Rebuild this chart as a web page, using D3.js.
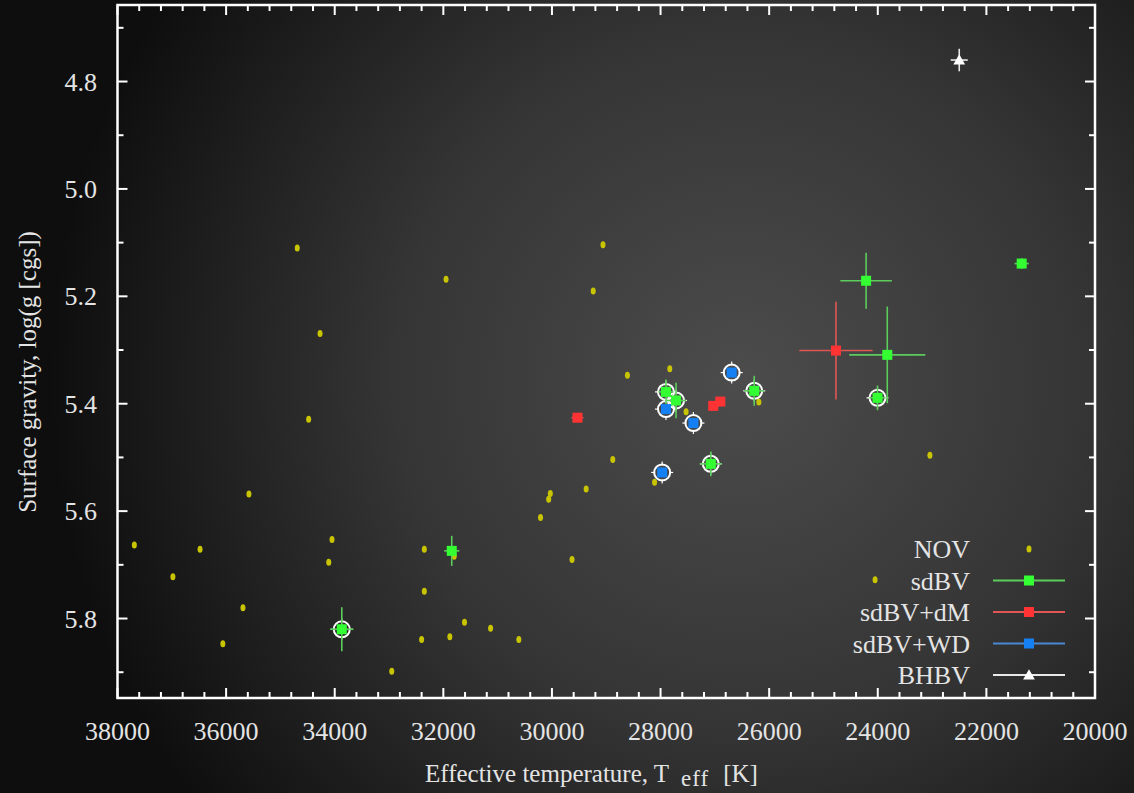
<!DOCTYPE html>
<html>
<head>
<meta charset="utf-8">
<script src="https://cdn.jsdelivr.net/npm/d3@7"></script>
<style>
	body{margin:0;background:#000;}
	svg{display:block;}
	text{font-family:"Liberation Serif","Times New Roman",serif;fill:#e4e4e4;}
</style>
</head>
<body>
<div id="chart"></div>
<script>
// NOV stars: [Teff, log g]
var nov = [
	[34690,5.110],[34270,5.269],[34480,5.429],[35580,5.568],[34050,5.653],
	[37690,5.663],[36480,5.671],[34110,5.695],[36980,5.722],[35690,5.780],
	[36060,5.847],[29060,5.104],[31950,5.168],[29240,5.190],[28880,5.504],
	[30030,5.567],[30060,5.578],[29370,5.559],[30210,5.612],[32350,5.671],
	[31800,5.684],[29630,5.690],[32350,5.749],[31610,5.807],[31130,5.818],
	[32400,5.839],[31880,5.834],[30610,5.839],[32950,5.898],[28610,5.347],
	[27830,5.335],[27530,5.415],[26190,5.397],[28110,5.546],[24050,5.728],
	[23040,5.496]
];

// pulsators: [Teff, log g, err Teff, err log g, circled]
var sdbv = [
	[33870,5.820,215,0.041,true],
	[31845,5.674,140,0.028,false],
	[27900,5.378,140,0.023,true],
	[27715,5.394,185,0.033,true],
	[26275,5.376,185,0.028,true],
	[27075,5.512,200,0.023,true],
	[24215,5.171,475,0.052,false],
	[23825,5.309,700,0.090,false],
	[24005,5.389,150,0.023,true],
	[21350,5.139,130,0.010,false]
];
var sdbvDM = [
	[29530,5.426,110,0.005,false],
	[27030,5.404,50,0.005,false],
	[26900,5.396,50,0.005,false],
	[24770,5.301,676,0.091,false]
];
var sdbvWD = [
	[26690,5.342,0,0,true],
	[27900,5.410,0,0,true],
	[27395,5.436,0,0,true],
	[27970,5.528,0,0,true]
];
var bhbv = [
	[22500,4.760,157,0.021,false]
];

var legendLabels = ["NOV","sdBV","sdBV+dM","sdBV+WD","BHBV"];
var xTicks = d3.range(38000,19999,-2000);
var yTicks = [4.8,5.0,5.2,5.4,5.6,5.8];

var W = 1134, H = 793;
var frame = {left:117.5, right:1095, top:5, bottom:698};

var svg = d3.select("#chart").append("svg").attr("width",W).attr("height",H);

var grad = svg.append("defs").append("radialGradient")
	.attr("id","bg").attr("gradientUnits","userSpaceOnUse")
	.attr("cx",740).attr("cy",380).attr("r",690);
grad.append("stop").attr("offset",0).attr("stop-color","#4c4c4c");
grad.append("stop").attr("offset",0.5).attr("stop-color","#353535");
grad.append("stop").attr("offset",1).attr("stop-color","#0e0e0e");
svg.append("rect").attr("width",W).attr("height",H).attr("fill","url(#bg)");

var x = d3.scaleLinear().domain([38000,20000]).range([frame.left,frame.right]);
var y = d3.scaleLinear().domain([4.6575,5.948]).range([frame.top,frame.bottom]);

// ticks on all four sides, pointing inward
var axisG = svg.append("g").attr("stroke","#fff").attr("stroke-width",2);
d3.range(38000,19999,-400).forEach(function(t){
	var len = (t % 2000 == 0) ? 10 : 6;
	axisG.append("line").attr("x1",x(t)).attr("x2",x(t)).attr("y1",frame.bottom).attr("y2",frame.bottom-len);
	axisG.append("line").attr("x1",x(t)).attr("x2",x(t)).attr("y1",frame.top).attr("y2",frame.top+len);
});
d3.range(47,60).forEach(function(k){
	var v = k/10;
	var len = (k % 2 == 0) ? 10 : 6;
	axisG.append("line").attr("y1",y(v)).attr("y2",y(v)).attr("x1",frame.left).attr("x2",frame.left+len);
	axisG.append("line").attr("y1",y(v)).attr("y2",y(v)).attr("x1",frame.right).attr("x2",frame.right-len);
});
svg.append("rect")
	.attr("x",frame.left).attr("y",frame.top)
	.attr("width",frame.right-frame.left).attr("height",frame.bottom-frame.top)
	.attr("fill","none").attr("stroke","#fff").attr("stroke-width",2.5);

svg.append("g").selectAll("text").data(xTicks).enter().append("text")
	.attr("x",function(d){ return x(d); })
	.attr("y",740)
	.attr("text-anchor","middle")
	.attr("font-size",26)
	.text(function(d){ return d; });
svg.append("g").selectAll("text").data(yTicks).enter().append("text")
	.attr("x",97)
	.attr("y",function(d){ return y(d)+9; })
	.attr("text-anchor","end")
	.attr("font-size",26)
	.text(function(d){ return d3.format(".1f")(d); });

// x title with subscript
var xl = svg.append("text").attr("x",425).attr("y",782).attr("font-size",25);
xl.append("tspan").text("Effective temperature, T");
xl.append("tspan").attr("dy",4).attr("dx",12).attr("font-size",23).attr("letter-spacing",1).text("eff");
xl.append("tspan").attr("dy",-4).attr("dx",14).text("[K]");

svg.append("text")
	.attr("transform","translate(36,372) rotate(-90)")
	.attr("text-anchor","middle")
	.attr("font-size",25)
	.text("Surface gravity, log(g [cgs])");

// NOV dots
svg.append("g").selectAll("ellipse").data(nov).enter().append("ellipse")
	.attr("cx",function(d){ return x(d[0]); })
	.attr("cy",function(d){ return y(d[1]); })
	.attr("rx",2.5).attr("ry",3.5)
	.attr("fill","#c9c400");

var allStars = [sdbv,sdbvDM,sdbvWD,bhbv];

// white rings round the circled stars
var ringG = svg.append("g").attr("stroke","#fff").attr("fill","none");
allStars.forEach(function(set){
	set.filter(function(d){ return d[4]; }).forEach(function(d){
		var cx = x(d[0]), cy = y(d[1]);
		ringG.append("circle").attr("cx",cx).attr("cy",cy).attr("r",8).attr("stroke-width",2);
		[[1,0],[-1,0],[0,1],[0,-1]].forEach(function(o){
			ringG.append("line").attr("stroke-width",1.2)
				.attr("x1",cx+o[0]*7).attr("x2",cx+o[0]*11)
				.attr("y1",cy+o[1]*7).attr("y2",cy+o[1]*11);
		});
	});
});

// error bars then markers
var series = [
	{data:sdbv, line:"#5ccd5c", fill:"#33ff33", shape:"square"},
	{data:sdbvDM, line:"#e05656", fill:"#ff3333", shape:"square"},
	{data:sdbvWD, line:"#4a88d4", fill:"#1580f4", shape:"square"},
	{data:bhbv, line:"#e8e8e8", fill:"#ffffff", shape:"triangle"}
];

drawErrors = function(s){
	var g = svg.append("g").attr("stroke",s.line).attr("stroke-width",1.6);
	s.data.forEach(function(d){
		if(d[2] > 0){
			g.append("line").attr("x1",x(d[0]-d[2])).attr("x2",x(d[0]+d[2])).attr("y1",y(d[1])).attr("y2",y(d[1]));
		}
		if(d[3] > 0){
			g.append("line").attr("x1",x(d[0])).attr("x2",x(d[0])).attr("y1",y(d[1]-d[3])).attr("y2",y(d[1]+d[3]));
		}
	});
}

drawMarker = function(g,shape,fill,cx,cy){
	if(shape == "square"){
		g.append("rect").attr("x",cx-5).attr("y",cy-5).attr("width",10).attr("height",10).attr("fill",fill);
	}else{
		g.append("path").attr("d",d3.symbol().type(d3.symbolTriangle).size(60)()).attr("transform","translate(" + cx + "," + (cy+1) + ")").attr("fill",fill);
	}
}

series.forEach(drawErrors);
series.forEach(function(s){
	var g = svg.append("g");
	s.data.forEach(function(d){ drawMarker(g,s.shape,s.fill,x(d[0]),y(d[1])); });
});

// legend
var legend = svg.append("g");
legendLabels.forEach(function(label,i){
	var ly = 549 + i*31.5;
	legend.append("text").attr("x",970).attr("y",ly+9).attr("text-anchor","end").attr("font-size",26).text(label);
	if(i == 0){
		legend.append("ellipse").attr("cx",1029).attr("cy",ly).attr("rx",2.5).attr("ry",3.5).attr("fill","#c9c400");
	}else{
		var s = series[i-1];
		legend.append("line").attr("x1",993).attr("x2",1065).attr("y1",ly).attr("y2",ly).attr("stroke",s.line).attr("stroke-width",2);
		drawMarker(legend,s.shape,s.fill,1029,ly);
	}
});
</script>
</body>
</html>
